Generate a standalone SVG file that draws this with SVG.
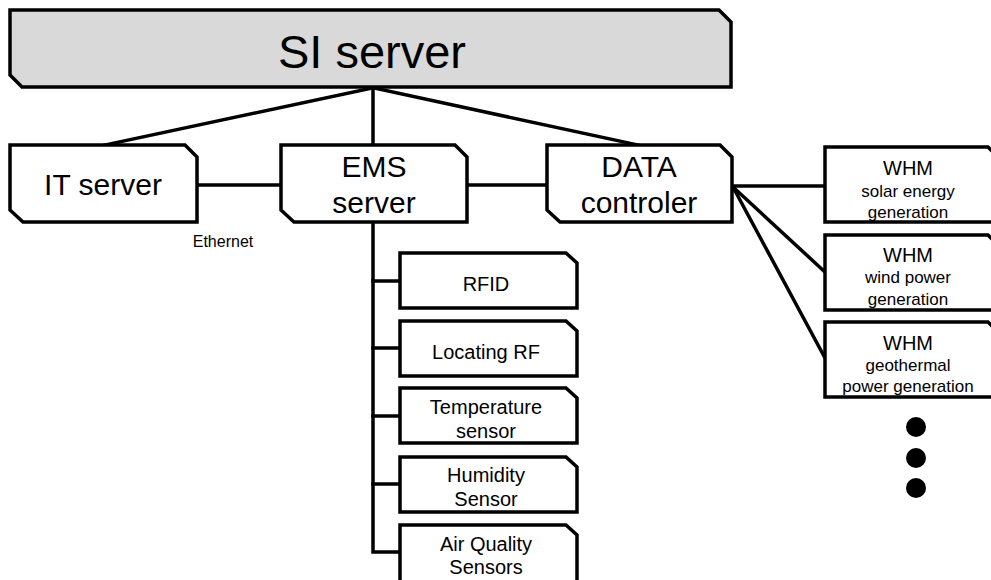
<svg xmlns="http://www.w3.org/2000/svg" width="991" height="580" viewBox="0 0 991 580">
  <style>
    .box { fill: #ffffff; stroke: #000000; stroke-width: 3.5; stroke-linejoin: miter; }
    .top { fill: #d9d9d9; stroke: #000000; stroke-width: 3.5; }
    .wire { stroke: #000000; stroke-width: 3.5; fill: none; stroke-linecap: square; }
    text { font-family: "Liberation Sans", Arial, sans-serif; fill: #000000; text-anchor: middle; }
    .t48 { font-size: 47px; }
    .t30 { font-size: 30px; }
    .t20 { font-size: 20px; }
    .t17 { font-size: 17px; }
    .t15 { font-size: 16px; }
  </style>

  <!-- connectors -->
  <g id="connectors">
    <line class="wire" x1="372" y1="88" x2="105" y2="145"/>
    <line class="wire" x1="373" y1="88" x2="373" y2="145"/>
    <line class="wire" x1="374" y1="88" x2="638" y2="145"/>
    <line class="wire" x1="197" y1="185" x2="281" y2="185"/>
    <line class="wire" x1="467" y1="185" x2="547" y2="185"/>
    <line class="wire" x1="733" y1="186" x2="825" y2="186"/>
    <line class="wire" x1="733" y1="187" x2="825" y2="272"/>
    <line class="wire" x1="733" y1="187" x2="825" y2="358"/>
    <polyline class="wire" points="373,223 373,552 400,552"/>
    <line class="wire" x1="373" y1="281" x2="400" y2="281"/>
    <line class="wire" x1="373" y1="348" x2="400" y2="348"/>
    <line class="wire" x1="373" y1="416" x2="400" y2="416"/>
    <line class="wire" x1="373" y1="484" x2="400" y2="484"/>
  </g>
  <text class="t15" x="223" y="247">Ethernet</text>

  <g id="si-server">
    <path class="top" d="M10,10 H719 L731,22 V87 H22 L10,75 Z"/>
    <text class="t48" x="372" y="68">SI server</text>
  </g>

  <g id="it-server">
    <path class="box" d="M10,145 H185 L197,157 V222 H23 L10,210 Z"/>
    <text class="t30" x="103" y="195">IT server</text>
  </g>

  <g id="ems-server">
    <path class="box" d="M281,145 H455 L467,157 V222 H294 L281,210 Z"/>
    <text class="t30" x="374" y="177">EMS</text>
    <text class="t30" x="374" y="213">server</text>
  </g>

  <g id="data-controler">
    <path class="box" d="M547,145 H720 L732,157 V222 H560 L547,210 Z"/>
    <text class="t30" x="639" y="177">DATA</text>
    <text class="t30" x="639" y="213">controler</text>
  </g>

  <g id="whm-solar">
    <path class="box" d="M825,147 H988 L1000,159 V222 H825 Z"/>
    <text class="t20" x="908" y="175">WHM</text>
    <text class="t17" x="908" y="197">solar energy</text>
    <text class="t17" x="908" y="218">generation</text>
  </g>

  <g id="whm-wind">
    <path class="box" d="M825,235 H988 L1000,247 V310 H825 Z"/>
    <text class="t20" x="908" y="262">WHM</text>
    <text class="t17" x="908" y="283">wind power</text>
    <text class="t17" x="908" y="305">generation</text>
  </g>

  <g id="whm-geothermal">
    <path class="box" d="M825,322 H988 L1000,334 V397 H825 Z"/>
    <text class="t20" x="908" y="350">WHM</text>
    <text class="t17" x="908" y="371">geothermal</text>
    <text class="t17" x="908" y="392">power generation</text>
  </g>

  <g id="more">
    <circle cx="916" cy="427" r="10"/>
    <circle cx="916" cy="458" r="10"/>
    <circle cx="916" cy="488" r="10"/>
  </g>

  <g id="rfid">
    <path class="box" d="M400,253 H566 L577,263 V308 H400 Z"/>
    <text class="t20" x="486" y="291">RFID</text>
  </g>

  <g id="locating-rf">
    <path class="box" d="M400,321 H566 L577,331 V376 H400 Z"/>
    <text class="t20" x="486" y="359">Locating RF</text>
  </g>

  <g id="temperature-sensor">
    <path class="box" d="M400,388 H566 L577,398 V443 H400 Z"/>
    <text class="t20" x="486" y="414">Temperature</text>
    <text class="t20" x="486" y="438">sensor</text>
  </g>

  <g id="humidity-sensor">
    <path class="box" d="M400,457 H566 L577,467 V512 H400 Z"/>
    <text class="t20" x="486" y="482">Humidity</text>
    <text class="t20" x="486" y="506">Sensor</text>
  </g>

  <g id="air-quality-sensors">
    <path class="box" d="M400,525 H566 L577,535 V582 H400 Z"/>
    <text class="t20" x="486" y="551">Air Quality</text>
    <text class="t20" x="486" y="574">Sensors</text>
  </g>
</svg>
